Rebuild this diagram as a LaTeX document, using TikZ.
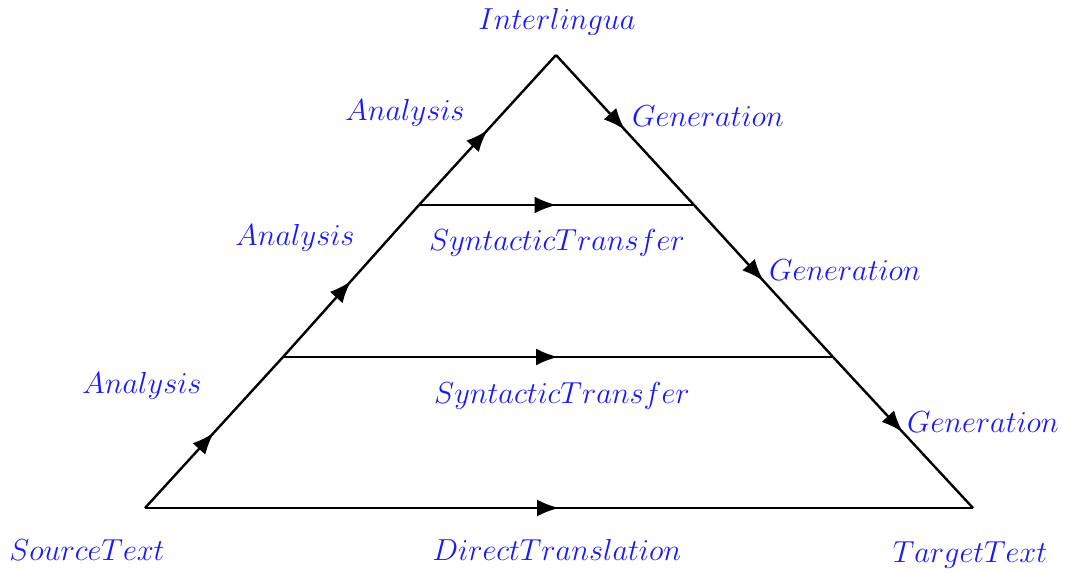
\RequirePackage{fix-cm}
\documentclass[tikz,border=0pt]{standalone}
\usetikzlibrary{arrows.meta,decorations.markings}
\begin{document}
\begin{tikzpicture}[x=0.5pt,y=-0.5pt,
  edge/.style={line width=1.2pt,
    postaction={decorate},
    decoration={markings,mark=at position 0.5 with {\arrow{Latex[length=11pt,width=8.5pt]}}}},
  lbl/.style={text=blue!90!white,font=\fontsize{15.2}{18}\selectfont,inner sep=0pt}]
\useasboundingbox (0,0) rectangle (1068,572);
% triangle vertices and level points
\coordinate (src) at (145,508);
\coordinate (tgt) at (973,508);
\coordinate (top) at (556,55);
\coordinate (l1) at (283,357);
\coordinate (l2) at (419,205);
\coordinate (r1) at (833,357);
\coordinate (r2) at (694,205);
% analysis side
\draw[edge] (src) -- (l1);
\draw[edge] (l1) -- (l2);
\draw[edge] (l2) -- (top);
% generation side
\draw[edge] (top) -- (r2);
\draw[edge] (r2) -- (r1);
\draw[edge] (r1) -- (tgt);
% transfer levels
\draw[edge] (src) -- (tgt);
\draw[edge] (l1) -- (r1);
\draw[edge] (l2) -- (r2);
% labels
\node[lbl] (interlingua) at (557,22) {$Interlingua$};
\node[lbl] (an3) at (405,113) {$Analysis$};
\node[lbl] (gen3) at (708,116) {$Generation$};
\node[lbl] (an2) at (295,238) {$Analysis$};
\node[lbl] (st2) at (557,243) {$SyntacticTransfer$};
\node[lbl] (gen2) at (845,270) {$Generation$};
\node[lbl] (an1) at (142,386) {$Analysis$};
\node[lbl] (st1) at (562,396) {$SyntacticTransfer$};
\node[lbl] (gen1) at (983,422) {$Generation$};
\node[lbl] (source) at (87,550) {$SourceText$};
\node[lbl] (direct) at (557,550) {$DirectTranslation$};
\node[lbl] (target) at (970,555) {$TargetText$};
\end{tikzpicture}
\end{document}
